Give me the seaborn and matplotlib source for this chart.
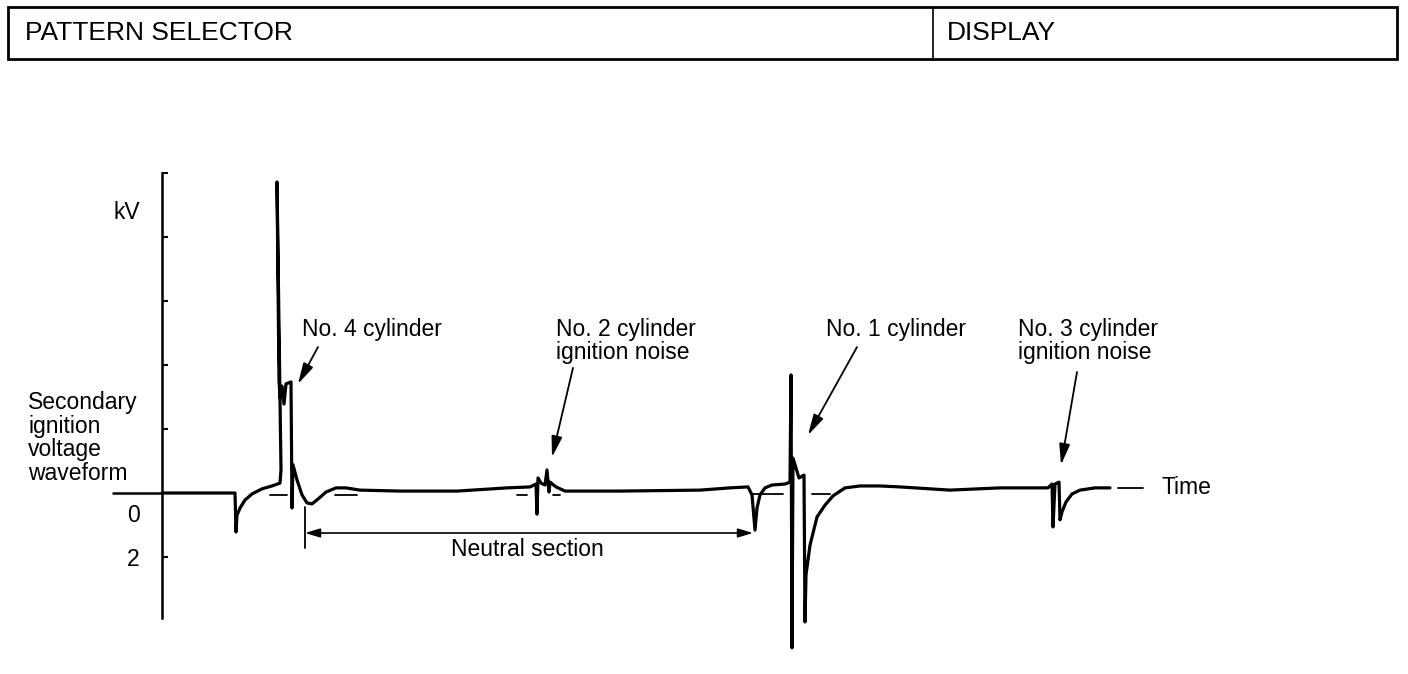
import matplotlib
matplotlib.use("Agg")
import matplotlib.pyplot as plt
import seaborn as sns
import pandas as pd
from matplotlib.patches import Rectangle
from matplotlib.lines import Line2D

# ---------------- data (time in arbitrary units, secondary voltage in kV) ----------------
time = [0.0, 7.3, 7.4, 7.5, 7.8, 8.3, 9.0, 10.0, 11.0, 11.8, 11.9, 11.5, 11.7, 11.8, 12.0,
        12.2, 12.4, 12.9, 13.0, 13.1, 13.5, 14.0, 14.5, 15.0, 15.6, 16.4, 17.4, 18.4, 19.8,
        23.8, 29.5, 34.5, 36.8, 37.4, 37.5, 37.6, 37.9, 38.3, 38.5, 38.7, 38.8, 39.4, 40.3,
        45.8, 53.8, 56.8, 58.6, 59.0, 59.3, 59.5, 59.8, 60.3, 61.0, 62.3, 62.8, 62.9, 63.0,
        63.1, 63.7, 64.2, 64.3, 64.4, 64.8, 65.5, 66.3, 67.1, 68.3, 69.8, 71.8, 73.8, 78.8,
        83.8, 88.6, 89.0, 89.1, 89.3, 89.7, 89.8, 90.0, 90.4, 91.0, 91.8, 93.3, 94.8]
kv = [0.0, 0.0, -1.22, -0.69, -0.47, -0.22, -0.03, 0.13, 0.22, 0.31, 0.72, 9.72, 3.53, 2.97, 3.34,
      2.78, 3.41, 3.47, -0.47, 0.88, 0.41, -0.06, -0.31, -0.34, -0.19, 0.03, 0.16, 0.16, 0.09,
      0.06, 0.06, 0.16, 0.19, 0.28, -0.66, 0.47, 0.31, 0.25, 0.72, 0.03, 0.34, 0.19, 0.06,
      0.06, 0.09, 0.16, 0.19, -0.06, -1.16, -0.47, -0.06, 0.16, 0.25, 0.28, 0.34, 3.69, -4.84,
      1.09, 0.47, 0.56, -4.03, -2.56, -1.63, -0.75, -0.38, -0.09, 0.16, 0.22, 0.22, 0.19, 0.09,
      0.16, 0.16, 0.28, -1.06, 0.28, 0.34, -0.84, -0.59, -0.28, -0.03, 0.09, 0.16, 0.16]

# visible pieces of the dashed zero-reference line (time start, time end, kV)
ref_start = [10.8, 17.3, 35.5, 39.1, 59.1, 65.0, 95.6]
ref_end = [12.5, 19.5, 36.5, 39.8, 62.1, 66.8, 98.1]
ref_level = [-0.05, -0.05, -0.05, -0.05, -0.03, -0.03, 0.16]

y_ticks = [-2, 2, 4, 6, 8, 10]
y_tick_labels = ["2", "", "", "", "", ""]

header_left = "PATTERN SELECTOR"
header_right = "DISPLAY"
y_title = "Secondary\nignition\nvoltage\nwaveform"
unit_label = "kV"
zero_label = "0"
x_label = "Time"
neutral_label = "Neutral section"
neutral_span = [14.3, 59.1]

ann_texts = ["No. 4 cylinder", "No. 2 cylinder\nignition noise",
             "No. 1 cylinder", "No. 3 cylinder\nignition noise"]
ann_tips = [(13.6, 3.41), (39.0, 1.12), (64.6, 1.81), (89.9, 0.88)]
ann_tails = [(15.6, 4.56), (41.1, 3.91), (69.5, 4.56), (91.5, 3.78)]
ann_text_pos = [(14.0, 5.12), (39.4, 4.75), (66.4, 5.12), (85.6, 4.75)]

# ---------------- style ----------------
sns.set_theme(style="white")
plt.rcParams["font.family"] = ["Liberation Sans", "DejaVu Sans"]
plt.rcParams["text.color"] = "black"
plt.rcParams["axes.labelcolor"] = "black"
plt.rcParams["xtick.color"] = "black"
plt.rcParams["ytick.color"] = "black"
FS = 16.5

W, H = 1408, 674
fig = plt.figure(figsize=(W / 100, H / 100), dpi=100)
fig.patch.set_facecolor("white")

# header box
fig.add_artist(Rectangle((8 / W, 1 - 59 / H), (1397 - 8) / W, (59 - 7) / H,
                         transform=fig.transFigure, fill=False, lw=2.0, ec="black"))
fig.add_artist(Line2D([933 / W, 933 / W], [1 - 59 / H, 1 - 7 / H],
                      transform=fig.transFigure, lw=1.2, color="black"))
fig.text(25 / W, 1 - 33 / H, header_left, fontsize=19, va="center", ha="left", color="black")
fig.text(947 / W, 1 - 33 / H, header_right, fontsize=19, va="center", ha="left", color="black")

# left labels
fig.text(28 / W, 1 - 438 / H, y_title, fontsize=FS, va="center", ha="left",
         linespacing=1.05, color="black")

# main axes (time units: 10 px each, kV: 32 px each)
ax = fig.add_axes([113 / W, (H - 662.6) / H, 1295 / W, (662.6 - 173) / H])
ax.set_xlim(-4.9, 124.6)
ax.set_ylim(-5.3, 10.0)
ax.set_facecolor("none")

df = pd.DataFrame({"time": time, "kV": kv})
sns.lineplot(data=df, x="time", y="kV", sort=False, estimator=None, color="black",
             lw=2.3, ax=ax, clip_on=False)

# zero baseline extension to the left of the axis and dashed reference pieces
ax.plot([-4.9, 0], [0, 0], color="black", lw=1.8, clip_on=False)
for t0, t1, lv in zip(ref_start, ref_end, ref_level):
    ax.plot([t0, t1], [lv, lv], color="black", lw=1.3, zorder=1)

# axis styling
for s in ["top", "right", "bottom"]:
    ax.spines[s].set_visible(False)
ax.spines["left"].set_position(("data", 0))
ax.spines["left"].set_bounds(-3.9, 10)
ax.spines["left"].set_linewidth(1.8)
ax.spines["left"].set_color("black")
ax.set_xticks([])
ax.set_yticks(y_ticks)
ax.set_yticklabels(y_tick_labels, fontsize=FS, color="black")
ax.tick_params(axis="y", direction="in", length=4, width=1.5, color="black", pad=16, left=True)
ax.set_xlabel("")
ax.set_ylabel("")

ax.text(-2.2, 8.78, unit_label, fontsize=FS, ha="right", va="center")
ax.text(-2.2, -0.69, zero_label, fontsize=FS, ha="right", va="center")
ax.text(100.0, 0.16, x_label, fontsize=FS, ha="left", va="center")

# annotations
for txt, tip, tail, pos in zip(ann_texts, ann_tips, ann_tails, ann_text_pos):
    ax.text(pos[0], pos[1], txt, fontsize=FS, ha="left", va="center", linespacing=1.05)
    ax.annotate("", xy=tip, xytext=tail,
                arrowprops=dict(arrowstyle="-|>,head_length=0.7,head_width=0.18",
                                color="black", lw=1.3, mutation_scale=18,
                                shrinkA=0, shrinkB=0))

# neutral section
ax.annotate("", xy=(neutral_span[1], -1.25), xytext=(neutral_span[0], -1.25),
            arrowprops=dict(arrowstyle="<|-|>,head_length=0.5,head_width=0.15",
                            color="black", lw=1.2, mutation_scale=18,
                            shrinkA=0, shrinkB=0))
ax.plot([neutral_span[0], neutral_span[0]], [-0.44, -1.72], color="black", lw=1.3)
ax.text(sum(neutral_span) / 2 - 0.2, -1.78, neutral_label, fontsize=FS, ha="center", va="center")

fig.savefig("out.png", dpi=100, facecolor="white")
